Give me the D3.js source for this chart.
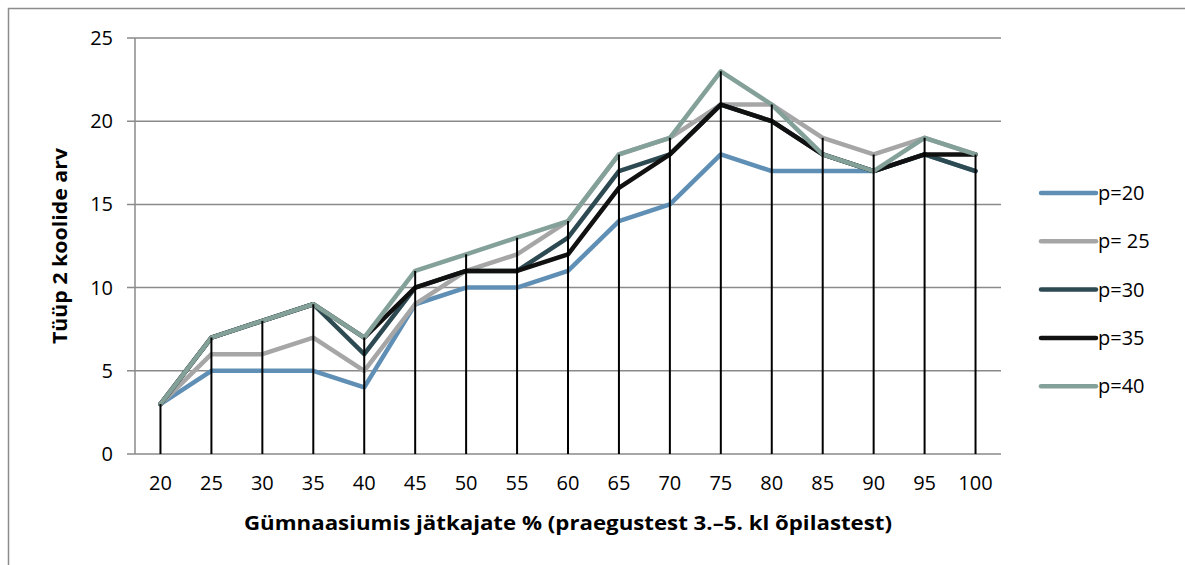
<!DOCTYPE html>
<html>
<head>
<meta charset="utf-8">
<script src="https://cdn.jsdelivr.net/npm/d3@7"></script>
<style>
  body { margin: 0; background: #fff; }
  svg { font-family: "Open Sans", Lato, sans-serif; }
</style>
</head>
<body>
<div id="chart"></div>
<script>
var width = 1185, height = 565;

var categories = ["20","25","30","35","40","45","50","55","60","65","70","75","80","85","90","95","100"];
var seriesNames = ["p=20", "p= 25", "p=30", "p=35", "p=40"];
var p20 = [3,5,5,5,4,9,10,10,11,14,15,18,17,17,17,18,17];
var p25 = [3,6,6,7,5,9,11,12,14,18,19,21,21,19,18,19,18];
var p30 = [3,7,8,9,6,10,11,11,13,17,18,21,20,18,17,18,17];
var p35 = [3,7,8,9,7,10,11,11,12,16,18,21,20,18,17,18,18];
var p40 = [3,7,8,9,7,11,12,13,14,18,19,23,21,18,17,19,18];
var yTicks = [0,5,10,15,20,25];
var colors = ["#5f8fb4", "#a6a6a6", "#2d4a52", "#111111", "#83a099"];

var seriesValues = [p20, p25, p30, p35, p40];

var margin = {left: 135, top: 38, right: 1001, bottom: 454};

var svg = d3.select("#chart").append("svg")
  .attr("width", width)
  .attr("height", height);

// outer frame
svg.append("path")
  .attr("d", "M8.5," + (height + 5) + "V8.5H" + (width + 5))
  .attr("fill", "none")
  .attr("stroke", "#8c8c8c")
  .attr("stroke-width", 1.5);

var x = d3.scalePoint()
  .domain(categories)
  .range([margin.left, margin.right])
  .padding(0.5);

var y = d3.scaleLinear()
  .domain([0, 25])
  .range([margin.bottom, margin.top]);

// gridlines
svg.append("g")
  .selectAll("line")
  .data(yTicks)
  .enter()
  .append("line")
    .attr("x1", margin.left - 8)
    .attr("x2", margin.right)
    .attr("y1", function (d) { return y(d); })
    .attr("y2", function (d) { return y(d); })
    .attr("stroke", "#8a8a8a")
    .attr("stroke-width", 1.5);

// y axis line
svg.append("line")
  .attr("x1", margin.left).attr("x2", margin.left)
  .attr("y1", margin.top).attr("y2", margin.bottom)
  .attr("stroke", "#8a8a8a")
  .attr("stroke-width", 1.5);

// y tick labels
svg.append("g")
  .selectAll("text")
  .data(yTicks)
  .enter()
  .append("text")
    .attr("x", 113)
    .attr("y", function (d) { return y(d) + 7; })
    .attr("text-anchor", "end")
    .attr("font-size", 20)
    .attr("fill", "#000")
    .text(function (d) { return d; });

// x tick labels
svg.append("g")
  .selectAll("text")
  .data(categories)
  .enter()
  .append("text")
    .attr("x", function (d) { return x(d); })
    .attr("y", 490)
    .attr("text-anchor", "middle")
    .attr("font-size", 20)
    .attr("fill", "#000")
    .text(function (d) { return d; });

// series lines
var line = d3.line()
  .x(function (d, i) { return x(categories[i]); })
  .y(function (d) { return y(d); });

svg.append("g")
  .selectAll("path")
  .data(seriesValues)
  .enter()
  .append("path")
    .attr("d", line)
    .attr("fill", "none")
    .attr("stroke", function (d, i) { return colors[i]; })
    .attr("stroke-width", 4.5)
    .attr("stroke-linejoin", "round")
    .attr("stroke-linecap", "round");

// drop lines from the highest point down to the axis
svg.append("g")
  .selectAll("line")
  .data(categories)
  .enter()
  .append("line")
    .attr("x1", function (d) { return x(d); })
    .attr("x2", function (d) { return x(d); })
    .attr("y1", function (d, i) {
      return y(d3.max(seriesValues, function (s) { return s[i]; }));
    })
    .attr("y2", margin.bottom)
    .attr("stroke", "#000")
    .attr("stroke-width", 2);

// axis titles
svg.append("text")
  .attr("x", 568)
  .attr("y", 530)
  .attr("text-anchor", "middle")
  .attr("font-size", 20)
  .attr("font-weight", "bold")
  .attr("textLength", 648)
  .attr("lengthAdjust", "spacingAndGlyphs")
  .text("Gümnaasiumis jätkajate % (praegustest 3.–5. kl õpilastest)");

svg.append("text")
  .attr("transform", "translate(67,246) rotate(-90)")
  .attr("text-anchor", "middle")
  .attr("font-size", 20)
  .attr("font-weight", "bold")
  .attr("textLength", 196)
  .attr("lengthAdjust", "spacingAndGlyphs")
  .text("Tüüp 2 koolide arv");

// legend
var legend = svg.append("g")
  .selectAll("g")
  .data(seriesNames)
  .enter()
  .append("g")
    .attr("transform", function (d, i) { return "translate(1041," + (193 + i * 48.3) + ")"; });

legend.append("line")
  .attr("x1", 0).attr("x2", 55)
  .attr("stroke", function (d, i) { return colors[i]; })
  .attr("stroke-width", 4.5)
  .attr("stroke-linecap", "round");

legend.append("text")
  .attr("x", 57)
  .attr("y", 7)
  .attr("font-size", 20)
  .text(function (d) { return d; });
</script>
</body>
</html>
